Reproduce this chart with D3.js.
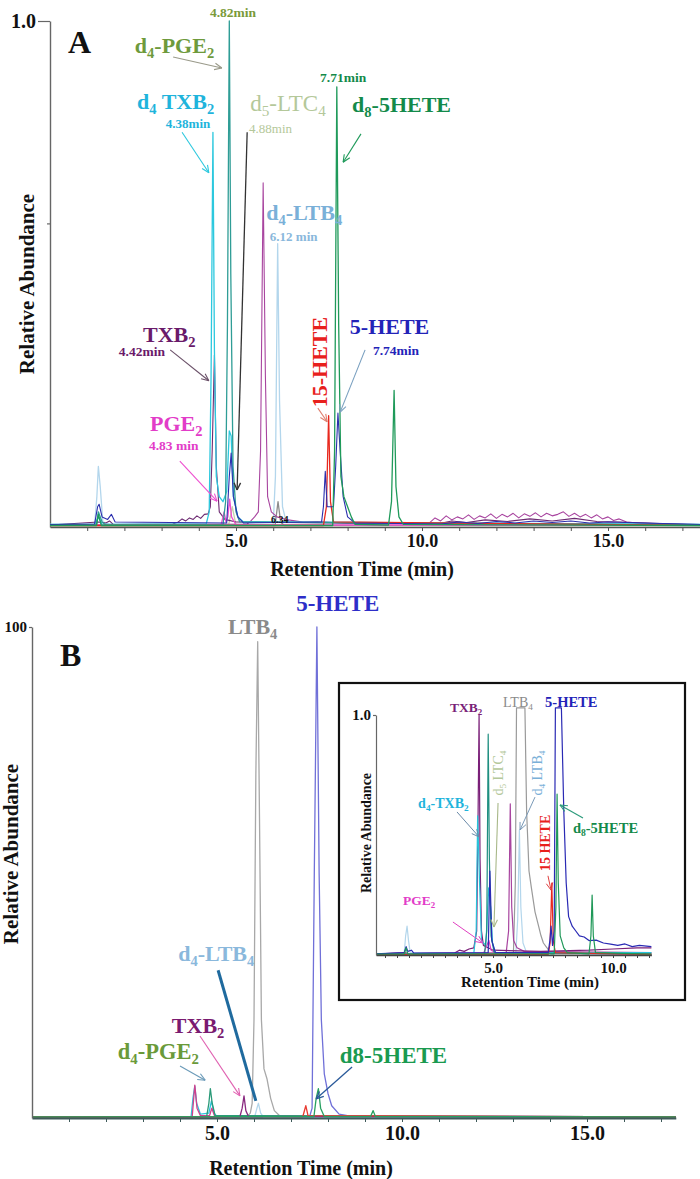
<!DOCTYPE html>
<html><head><meta charset="utf-8">
<script src="https://cdn.jsdelivr.net/npm/d3@7"></script>
<style>
body{margin:0;background:#fff}
text{font-family:"Liberation Serif","Times New Roman",serif}
</style>
</head><body>
<script>
// ================= DATA : [retention time (min), relative abundance] =================
// ---- Panel A ----
const aD4LTB4 = [[0,0.005],[1.2,0.005],[1.26,0.06],[1.3,0.12],[1.35,0.08],[1.42,0.01],[1.6,0.005],[6.0,0.005],[6.06,0.1],[6.12,0.56],[6.17,0.25],[6.25,0.04],[6.35,0.01],[17.5,0.005]];
const aD5LTC4 = [[0,0.003],[4.8,0.003],[4.9,0.04],[5.0,0.003],[17.5,0.003]];
const aGrey = [[0,0.003],[6.05,0.003],[6.13,0.05],[6.2,0.01],[6.3,0.003],[17.5,0.003]];
const aPurple2 = [[0,0.004],[5.3,0.006],[5.4,0.012],[5.5,0.02],[5.6,0.03],[5.66,0.15],[5.73,0.68],[5.79,0.3],[5.85,0.06],[5.95,0.03],[6.1,0.02],[6.4,0.014],[6.8,0.01],[7.2,0.011],[8.0,0.007],[10.2,0.008],[10.35,0.018],[10.5,0.012],[10.65,0.022],[10.8,0.014],[10.95,0.02],[11.1,0.016],[11.25,0.024],[11.4,0.015],[11.55,0.022],[11.7,0.018],[11.85,0.026],[12.0,0.017],[12.15,0.025],[12.3,0.02],[12.45,0.027],[12.6,0.018],[12.75,0.026],[12.9,0.021],[13.05,0.028],[13.2,0.02],[13.35,0.027],[13.5,0.022],[13.65,0.025],[13.8,0.03],[13.95,0.021],[14.1,0.027],[14.25,0.02],[14.4,0.025],[14.55,0.018],[14.7,0.024],[14.85,0.016],[15.0,0.02],[15.15,0.013],[15.3,0.016],[15.5,0.01],[15.8,0.008],[16.2,0.007],[17.5,0.005]];
const aTXB2 = [[0,0.004],[1.3,0.01],[1.5,0.008],[1.6,0.012],[1.7,0.005],[3.3,0.006],[3.45,0.01],[3.55,0.016],[3.65,0.012],[3.75,0.018],[3.85,0.015],[3.95,0.022],[4.05,0.017],[4.15,0.025],[4.25,0.026],[4.31,0.04],[4.36,0.15],[4.42,0.34],[4.47,0.12],[4.55,0.03],[4.7,0.015],[5.0,0.01],[10.4,0.006],[10.8,0.012],[11.2,0.009],[11.7,0.014],[12.3,0.011],[12.9,0.016],[13.5,0.012],[14.1,0.017],[14.7,0.011],[15.3,0.01],[17.5,0.004]];
const aPGE2 = [[0,0.004],[4.6,0.004],[4.68,0.03],[4.73,0.01],[4.78,0.02],[4.83,0.055],[4.88,0.02],[5.0,0.004],[17.5,0.004]];
const aD4TXB2 = [[0,0.005],[1.2,0.005],[1.3,0.02],[1.4,0.005],[4.2,0.006],[4.28,0.03],[4.33,0.3],[4.38,0.78],[4.42,0.35],[4.47,0.1],[4.55,0.06],[4.65,0.05],[4.75,0.07],[4.82,0.19],[4.87,0.18],[4.93,0.06],[5.05,0.02],[5.2,0.01],[17.5,0.005]];
const aD4PGE2 = [[0,0.004],[1.25,0.004],[1.3,0.03],[1.4,0.01],[1.5,0.004],[4.65,0.004],[4.72,0.05],[4.77,0.4],[4.82,1.0],[4.86,0.5],[4.92,0.12],[5.0,0.03],[5.1,0.01],[17.5,0.004]];
const a15HETE = [[0,0.003],[7.35,0.003],[7.43,0.04],[7.49,0.22],[7.54,0.05],[7.62,0.01],[17.5,0.003]];
const a5HETE = [[0,0.005],[1.2,0.006],[1.28,0.04],[1.32,0.045],[1.4,0.02],[1.55,0.015],[1.65,0.025],[1.75,0.01],[4.75,0.008],[4.82,0.1],[4.87,0.146],[4.93,0.06],[5.05,0.02],[5.2,0.008],[7.3,0.01],[7.35,0.04],[7.4,0.11],[7.45,0.04],[7.62,0.04],[7.68,0.12],[7.74,0.225],[7.8,0.15],[7.88,0.06],[8.0,0.02],[8.2,0.008],[10.5,0.006],[11,0.01],[11.5,0.007],[12,0.011],[12.5,0.008],[13,0.012],[13.5,0.009],[14,0.012],[14.5,0.008],[15,0.01],[17.5,0.005]];
const aD85HETE = [[0,0.003],[1.25,0.003],[1.3,0.025],[1.38,0.003],[7.6,0.003],[7.65,0.15],[7.71,0.87],[7.76,0.4],[7.82,0.1],[7.9,0.06],[8.0,0.04],[8.1,0.02],[8.2,0.005],[9.1,0.004],[9.18,0.05],[9.25,0.27],[9.3,0.08],[9.38,0.02],[9.5,0.005],[17.5,0.003]];

// ---- Panel B ----
const bLTB4 = [[0,0.002],[5.8,0.002],[5.9,0.01],[5.95,0.03],[6.0,0.2],[6.05,0.7],[6.1,0.97],[6.15,0.6],[6.2,0.2],[6.27,0.1],[6.35,0.08],[6.45,0.04],[6.55,0.015],[6.7,0.004],[17.4,0.002]];
const b5HETE = [[0,0.002],[7.5,0.002],[7.57,0.02],[7.63,0.5],[7.7,1.0],[7.76,0.5],[7.82,0.2],[7.9,0.09],[8.0,0.05],[8.1,0.025],[8.3,0.008],[8.6,0.004],[17.4,0.002]];
const bD4TXB2 = [[0,0.002],[4.3,0.003],[4.35,0.04],[4.4,0.065],[4.45,0.03],[4.55,0.008],[4.78,0.01],[4.85,0.035],[4.92,0.01],[5.0,0.003],[17.4,0.002]];
const bPink = [[0,0.002],[4.33,0.003],[4.4,0.067],[4.46,0.02],[4.55,0.005],[4.8,0.005],[4.86,0.02],[4.93,0.005],[17.4,0.002]];
const bD4PGE2 = [[0,0.002],[4.72,0.003],[4.78,0.03],[4.82,0.06],[4.87,0.03],[4.95,0.005],[17.4,0.002]];
const bTXB2 = [[0,0.002],[5.62,0.003],[5.68,0.02],[5.73,0.045],[5.78,0.015],[5.85,0.003],[17.4,0.002]];
const bD4LTB4 = [[0,0.002],[6.02,0.003],[6.08,0.02],[6.12,0.03],[6.18,0.01],[6.26,0.002],[17.4,0.002]];
const b15HETE = [[0,0.002],[7.32,0.003],[7.4,0.025],[7.46,0.005],[17.4,0.002]];
const bD85HETE = [[0,0.002],[7.62,0.003],[7.68,0.04],[7.74,0.06],[7.8,0.02],[7.9,0.003],[9.15,0.003],[9.22,0.015],[9.28,0.003],[17.4,0.002]];

// ---- Inset (panel B) ----
const iD4LTB4 = [[0.125,0.005],[1.3,0.005],[1.36,0.08],[1.42,0.12],[1.48,0.06],[1.55,0.01],[5.95,0.005],[6.03,0.15],[6.1,0.52],[6.16,0.2],[6.25,0.05],[6.4,0.01],[11.6,0.005]];
const iLTB4 = [[0.125,0.003],[5.85,0.005],[5.93,0.3],[5.98,1.03],[6.33,1.03],[6.4,0.6],[6.5,0.35],[6.6,0.28],[6.75,0.18],[6.9,0.12],[7.0,0.08],[7.1,0.05],[7.25,0.03],[7.4,0.005],[11.6,0.003]];
const iPurple2 = [[0.125,0.004],[5.55,0.01],[5.65,0.1],[5.72,0.63],[5.78,0.2],[5.86,0.06],[6.0,0.03],[6.3,0.015],[11.6,0.01]];
const iTXB2 = [[0.125,0.004],[1.3,0.01],[1.5,0.006],[3.4,0.008],[3.6,0.02],[3.8,0.015],[4.0,0.025],[4.2,0.03],[4.32,0.1],[4.38,0.6],[4.42,1.0],[4.46,0.4],[4.52,0.1],[4.6,0.04],[4.8,0.03],[5.0,0.02],[7.0,0.015],[9.0,0.02],[10.0,0.025],[11.0,0.03],[11.6,0.03]];
const iPGE2 = [[0.125,0.004],[4.6,0.005],[4.7,0.03],[4.83,0.06],[4.92,0.02],[5.1,0.01],[11.6,0.004]];
const iD4TXB2 = [[0.125,0.006],[4.2,0.006],[4.3,0.1],[4.36,0.58],[4.44,0.3],[4.52,0.06],[4.7,0.04],[4.82,0.28],[4.9,0.2],[4.98,0.05],[5.1,0.01],[11.6,0.01]];
const iD4PGE2 = [[0.125,0.004],[4.65,0.005],[4.74,0.1],[4.8,0.92],[4.85,0.4],[4.92,0.08],[5.05,0.01],[11.6,0.004]];
const i15HETE = [[0.125,0.003],[7.3,0.003],[7.38,0.05],[7.45,0.3],[7.51,0.06],[7.6,0.01],[11.6,0.003]];
const i5HETE = [[0.125,0.005],[1.3,0.01],[1.38,0.035],[1.45,0.015],[1.6,0.02],[1.7,0.008],[4.8,0.01],[4.87,0.35],[4.95,0.06],[5.1,0.01],[7.3,0.01],[7.37,0.06],[7.42,0.12],[7.48,0.04],[7.55,0.1],[7.6,1.03],[7.85,1.03],[7.95,0.6],[8.05,0.3],[8.15,0.16],[8.3,0.12],[8.45,0.1],[8.6,0.08],[8.8,0.075],[9.0,0.06],[9.3,0.062],[9.6,0.05],[9.9,0.045],[10.2,0.04],[10.5,0.046],[10.8,0.035],[11.1,0.04],[11.6,0.035]];
const iD85HETE = [[0.125,0.004],[1.3,0.004],[1.38,0.03],[1.45,0.004],[7.55,0.005],[7.62,0.2],[7.67,0.67],[7.72,0.3],[7.8,0.08],[7.95,0.03],[8.1,0.01],[9.0,0.005],[9.08,0.08],[9.13,0.25],[9.18,0.08],[9.27,0.01],[11.6,0.004]];

// ---- ticks ----
const xMinorTicks = [1,2,3,4,5,6,7,8,9,10,11,12,13,14,15,16,17];
const xTickLabels = [5,10,15];
const insetMinorTicks = [0.5,1,1.5,2,2.5,3,3.5,4,4.5,5,5.5,6,6.5,7,7.5,8,8.5,9,9.5,10,10.5,11,11.5];
const insetTickLabels = [5,10];

// ================= DRAWING =================
const W = 700, H = 1179;
const svg = d3.select("body").append("svg").attr("width", W).attr("height", H);

function label(g, x, y, str, o) {
  const fs = o.size;
  const t = g.append("text").attr("x", x).attr("y", y).attr("fill", o.color)
    .attr("font-size", fs).attr("text-anchor", o.anchor || "start")
    .attr("font-weight", o.weight || "bold");
  if (o.rotate) t.attr("transform", `rotate(${o.rotate},${x},${y})`);
  const parts = str.split(/_(\w)/);
  let inSub = false;
  parts.forEach((p, i) => {
    if (p === "") return;
    const isSub = i % 2 === 1;
    const ts = t.append("tspan").text(p);
    if (isSub) { ts.attr("font-size", fs * 0.66).attr("dy", fs * 0.22); inSub = true; }
    else if (inSub) { ts.attr("dy", -fs * 0.22); inSub = false; }
  });
  return t;
}

function arrow(g, x1, y1, x2, y2, color, w, head = true) {
  g.append("line").attr("x1", x1).attr("y1", y1).attr("x2", x2).attr("y2", y2)
    .attr("stroke", color).attr("stroke-width", w);
  if (!head) return;
  const a = Math.atan2(y2 - y1, x2 - x1), L = 8;
  [0.42, -0.42].forEach(d => {
    g.append("line").attr("x1", x2).attr("y1", y2)
      .attr("x2", x2 - L * Math.cos(a + d)).attr("y2", y2 - L * Math.sin(a + d))
      .attr("stroke", color).attr("stroke-width", w);
  });
}

function drawSeries(g, x, y, list, w) {
  const line = d3.line().x(d => x(d[0])).y(d => y(d[1]));
  list.forEach(s => {
    g.append("path").datum(s.data).attr("d", line).attr("fill", "none")
      .attr("stroke", s.color).attr("stroke-width", s.w || w).attr("stroke-linejoin", "round");
  });
}

function xAxis(g, x, y0, ticks, labels, o) {
  const ax = d3.axisBottom(x).tickValues(ticks).tickSize(o.tick).tickSizeOuter(0)
    .tickFormat(d => labels.includes(d) ? d.toFixed(1) : "");
  const a = g.append("g").attr("transform", `translate(0,${y0})`).call(ax);
  a.attr("font-family", null).attr("font-size", null);
  a.select(".domain").attr("stroke", o.color).attr("stroke-width", o.lw);
  a.selectAll(".tick line").attr("stroke", o.color).attr("stroke-width", 1);
  a.selectAll(".tick text").attr("font-size", o.fs).attr("font-weight", "bold")
    .attr("fill", "#111").attr("y", o.ty).attr("dy", 0);
}

function yAxis(g, y, x0, ticks, fmt, o) {
  const ax = d3.axisLeft(y).tickValues(ticks).tickSize(o.tick).tickSizeOuter(0).tickFormat(fmt);
  const a = g.append("g").attr("transform", `translate(${x0},0)`).call(ax);
  a.attr("font-family", null).attr("font-size", null);
  a.select(".domain").attr("stroke", o.color).attr("stroke-width", o.lw);
  a.selectAll(".tick line").attr("stroke", o.color).attr("stroke-width", 1.2);
  a.selectAll(".tick text").attr("font-size", o.fs).attr("font-weight", "bold")
    .attr("fill", "#111").attr("x", -o.tick - 2);
  return a;
}

// ---------------- Panel A ----------------
{
  const g = svg.append("g");
  const x = d3.scaleLinear().domain([0, 17.5]).range([50, 701]);
  const y = d3.scaleLinear().domain([0, 1]).range([527, 21]);
  xAxis(g, x, 527, xMinorTicks, xTickLabels, {tick: 4, color: "#555", lw: 1.5, fs: 18, ty: 20});
  yAxis(g, y, 50, [1.0], d => d.toFixed(1), {tick: 12, color: "#666", lw: 1.4, fs: 20});
  yAxis(g, y, 50, [0.6], () => "", {tick: 3, color: "#666", lw: 0, fs: 10});
  drawSeries(g, x, y, [
    {data: aD4LTB4, color: "#b3d6ec"},
    {data: aD5LTC4, color: "#c3d3a8"},
    {data: aGrey, color: "#8c8c8c"},
    {data: aPurple2, color: "#a8449f", w: 1.1},
    {data: aTXB2, color: "#6d2a72", w: 1.1},
    {data: aPGE2, color: "#ee4fd0"},
    {data: aD4TXB2, color: "#2cc8de"},
    {data: aD4PGE2, color: "#2f9d96"},
    {data: a15HETE, color: "#e8281e"},
    {data: a5HETE, color: "#2b2fae", w: 1.1},
    {data: aD85HETE, color: "#1f9a5a"}
  ], 1.3);

  label(g, 68, 53, "A", {size: 32, color: "#111"});
  g.append("text").attr("x", 34).attr("y", 284).attr("transform", "rotate(-90,34,284)")
    .attr("text-anchor", "middle").attr("font-size", 21).attr("font-weight", "bold")
    .attr("fill", "#111").text("Relative Abundance");
  g.append("text").attr("x", 362).attr("y", 576).attr("text-anchor", "middle")
    .attr("font-size", 20).attr("font-weight", "bold").attr("fill", "#111").text("Retention Time (min)");

  const P = (t, v) => [x(t), y(v)];
  const ann = [
    {t: 4.92, v: 1.008, s: "4.82min", c: "#7a9a3a", size: 13.5, anchor: "middle"},
    {t: 2.28, v: 0.937, s: "d_4-PGE_2", c: "#6e9a3c", size: 22},
    {t: 2.34, v: 0.826, s: "d_4 TXB_2", c: "#1fb4dc", size: 22},
    {t: 3.71, v: 0.788, s: "4.38min", c: "#1fb4dc", size: 13, anchor: "middle"},
    {t: 5.38, v: 0.822, s: "d_5-LTC_4", c: "#b4c89a", size: 23, weight: "normal"},
    {t: 5.35, v: 0.779, s: "4.88min", c: "#b4c89a", size: 13, weight: "normal"},
    {t: 7.26, v: 0.88, s: "7.71min", c: "#138a4a", size: 13.5},
    {t: 8.12, v: 0.82, s: "d_8-5HETE", c: "#138a4a", size: 22},
    {t: 5.81, v: 0.606, s: "d_4-LTB_4", c: "#7ab0d8", size: 22},
    {t: 5.91, v: 0.566, s: "6.12 min", c: "#8ab8dc", size: 13},
    {t: 2.5, v: 0.366, s: "TXB_2", c: "#6a1a6a", size: 22},
    {t: 1.85, v: 0.338, s: "4.42min", c: "#6a1a6a", size: 13.5},
    {t: 2.69, v: 0.19, s: "PGE_2", c: "#e23cc8", size: 22},
    {t: 2.66, v: 0.152, s: "4.83 min", c: "#e23cc8", size: 13.5},
    {t: 8.06, v: 0.382, s: "5-HETE", c: "#2323b8", size: 22},
    {t: 8.68, v: 0.34, s: "7.74min", c: "#2323b8", size: 13.5},
    {t: 5.94, v: 0.008, s: "6.34", c: "#111", size: 10}
  ];
  ann.forEach(a => { const [px, py] = P(a.t, a.v); label(g, px, py, a.s, {size: a.size, color: a.c, anchor: a.anchor, weight: a.weight}); });
  { const [px, py] = P(7.45, 0.326); label(g, px, py, "15-HETE", {size: 22, color: "#e8201c", anchor: "middle", rotate: -90}); }

  const arr = [
    [3.31, 0.929, 4.62, 0.907, "#9a9a8a", 1.1, true],
    [3.55, 0.78, 4.27, 0.70, "#2cc8de", 1.1, true],
    [5.30, 0.78, 5.03, 0.073, "#333", 1.3, true],
    [8.36, 0.777, 7.88, 0.721, "#1f9a5a", 1.1, true],
    [3.23, 0.35, 4.27, 0.289, "#6a5068", 1.1, true],
    [3.49, 0.13, 4.49, 0.051, "#ee4fd0", 1.1, true],
    [7.2, 0.235, 7.45, 0.208, "#e08070", 1.1, true],
    [8.47, 0.35, 7.8, 0.227, "#7aa0c0", 1.1, true]
  ];
  arr.forEach(a => { const [x1, y1] = P(a[0], a[1]), [x2, y2] = P(a[2], a[3]); arrow(g, x1, y1, x2, y2, a[4], a[5], a[6]); });
}

// ---------------- Panel B ----------------
{
  const g = svg.append("g");
  const x = d3.scaleLinear().domain([0, 17.4]).range([32, 675.8]);
  const y = d3.scaleLinear().domain([0, 1]).range([1118, 627]);
  drawSeries(g, x, y, [
    {data: bLTB4, color: "#a8a8a8"},
    {data: b5HETE, color: "#7070d8"},
    {data: bD4LTB4, color: "#b3d6ec"},
    {data: bD4TXB2, color: "#30c4dc"},
    {data: bPink, color: "#d0408e"},
    {data: bD4PGE2, color: "#2a9a78"},
    {data: bTXB2, color: "#8a2a80"},
    {data: b15HETE, color: "#e83a30"},
    {data: bD85HETE, color: "#27a060"}
  ], 1.3);
  xAxis(g, x, 1118, xMinorTicks, xTickLabels, {tick: 4, color: "#3f5a5a", lw: 2, fs: 20, ty: 22});
  yAxis(g, y, 32, [1.0], () => "100", {tick: 3, color: "#666", lw: 1.4, fs: 15});

  label(g, 60, 666, "B", {size: 32, color: "#111"});
  g.append("text").attr("x", 18).attr("y", 854).attr("transform", "rotate(-90,18,854)")
    .attr("text-anchor", "middle").attr("font-size", 21).attr("font-weight", "bold")
    .attr("fill", "#111").text("Relative Abundance");
  g.append("text").attr("x", 301).attr("y", 1175).attr("text-anchor", "middle")
    .attr("font-size", 20).attr("font-weight", "bold").attr("fill", "#111").text("Retention Time (min)");

  const P = (t, v) => [x(t), y(v)];
  const ann = [
    {t: 5.3, v: 0.986, s: "LTB_4", c: "#8a8a8a", size: 22},
    {t: 7.14, v: 1.033, s: "5-HETE", c: "#2e2ec8", size: 23},
    {t: 3.95, v: 0.32, s: "d_4-LTB_4", c: "#8ab8dc", size: 22},
    {t: 3.78, v: 0.173, s: "TXB_2", c: "#7a1a70", size: 22},
    {t: 2.32, v: 0.12, s: "d_4-PGE_2", c: "#6a9a3a", size: 22.5},
    {t: 8.32, v: 0.112, s: "d8-5HETE", c: "#1a9a50", size: 23}
  ];
  ann.forEach(a => { const [px, py] = P(a.t, a.v); label(g, px, py, a.s, {size: a.size, color: a.c}); });
  const arr = [
    [5.03, 0.301, 6.05, 0.035, "#1f6a9e", 3, false],
    [4.54, 0.167, 5.62, 0.045, "#e060b0", 1.1, true],
    [4.0, 0.106, 4.68, 0.077, "#6a9ab8", 1.1, true],
    [8.65, 0.104, 7.68, 0.039, "#2a5a9a", 1.3, true]
  ];
  arr.forEach(a => { const [x1, y1] = P(a[0], a[1]), [x2, y2] = P(a[2], a[3]); arrow(g, x1, y1, x2, y2, a[4], a[5], a[6]); });
}

// ---------------- Inset ----------------
{
  const g = svg.append("g");
  g.append("rect").attr("x", 339).attr("y", 683).attr("width", 346).attr("height", 317)
    .attr("fill", "#fff").attr("stroke", "#111").attr("stroke-width", 2.2);
  const x = d3.scaleLinear().domain([0.125, 11.6]).range([376, 651.4]);
  const y = d3.scaleLinear().domain([0, 1]).range([955, 715]);
  drawSeries(g, x, y, [
    {data: iD4LTB4, color: "#b3d6ec"},
    {data: iLTB4, color: "#9a9a9a"},
    {data: iPurple2, color: "#a8449f"},
    {data: iTXB2, color: "#7a1f78"},
    {data: iPGE2, color: "#e040c0"},
    {data: iD4TXB2, color: "#27c3da"},
    {data: iD4PGE2, color: "#1f8f80"},
    {data: i15HETE, color: "#e8281e"},
    {data: i5HETE, color: "#2a2ab4"},
    {data: iD85HETE, color: "#1f9858"}
  ], 1.2);
  xAxis(g, x, 955, insetMinorTicks, insetTickLabels, {tick: 3, color: "#444", lw: 1.3, fs: 15, ty: 18});
  yAxis(g, y, 376, [1.0], d => d.toFixed(1), {tick: 3, color: "#666", lw: 1.2, fs: 15});

  g.append("text").attr("x", 371).attr("y", 833).attr("transform", "rotate(-90,371,833)")
    .attr("text-anchor", "middle").attr("font-size", 14).attr("font-weight", "bold")
    .attr("fill", "#111").text("Relative Abundance");
  g.append("text").attr("x", 530).attr("y", 987).attr("text-anchor", "middle")
    .attr("font-size", 15).attr("font-weight", "bold").attr("fill", "#111").text("Retention Time (min)");

  const P = (t, v) => [x(t), y(v)];
  const ann = [
    {t: 3.21, v: 1.012, s: "TXB_2", c: "#7a1f78", size: 13.5},
    {t: 5.42, v: 1.033, s: "LTB_4", c: "#8a8a8a", size: 14, weight: "normal"},
    {t: 7.17, v: 1.033, s: "5-HETE", c: "#2323b8", size: 14.5},
    {t: 1.88, v: 0.6125, s: "d_4-TXB_2", c: "#1fb4dc", size: 14},
    {t: 8.33, v: 0.508, s: "d_8-5HETE", c: "#138a4a", size: 14.5},
    {t: 1.25, v: 0.208, s: "PGE_2", c: "#e23cc8", size: 13.5}
  ];
  ann.forEach(a => { const [px, py] = P(a.t, a.v); label(g, px, py, a.s, {size: a.size, color: a.c, weight: a.weight}); });
  const rot = [
    {t: 5.42, v: 0.758, s: "d_5 LTC_4", c: "#b4c89a", weight: "normal"},
    {t: 7.04, v: 0.758, s: "d_4 LTB_4", c: "#7ab0d8", weight: "normal"},
    {t: 7.375, v: 0.467, s: "15 HETE", c: "#e8201c", weight: "bold"}
  ];
  rot.forEach(a => { const [px, py] = P(a.t, a.v); label(g, px, py, a.s, {size: 14, color: a.c, anchor: "middle", rotate: -90, weight: a.weight}); });
  const arr = [
    [3.5, 0.596, 4.42, 0.492, "#6a8aa8", 1.0, true],
    [5.21, 0.633, 5.04, 0.117, "#a8b888", 1.1, true],
    [6.75, 0.658, 6.125, 0.521, "#7a9ab8", 1.0, true],
    [7.29, 0.33, 7.42, 0.27, "#e04040", 1.0, true],
    [8.75, 0.571, 7.79, 0.625, "#2a9a7a", 1.1, true],
    [3.33, 0.1375, 4.58, 0.05, "#e040c0", 1.0, true]
  ];
  arr.forEach(a => { const [x1, y1] = P(a[0], a[1]), [x2, y2] = P(a[2], a[3]); arrow(g, x1, y1, x2, y2, a[4], a[5], a[6]); });
}
</script>
</body></html>
